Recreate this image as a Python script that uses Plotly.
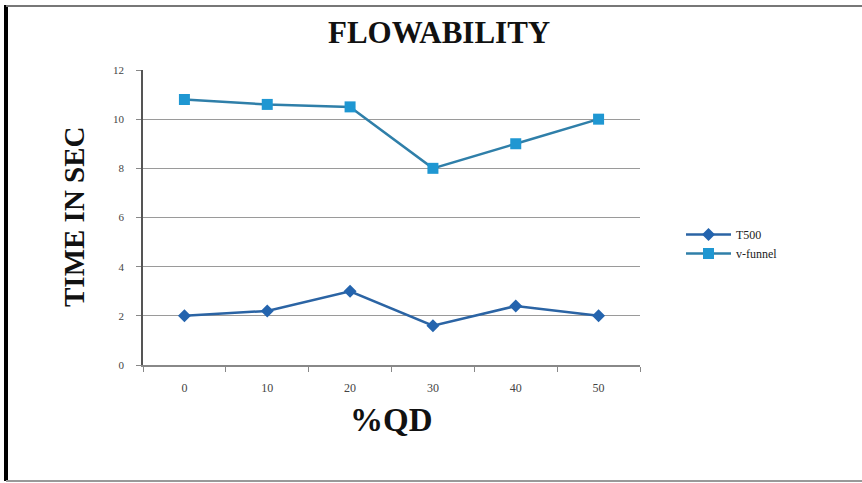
import plotly.graph_objects as go

categories = ["0", "10", "20", "30", "40", "50"]
t500 = [2.0, 2.2, 3.0, 1.6, 2.4, 2.0]
v_funnel = [10.8, 10.6, 10.5, 8.0, 9.0, 10.0]
y_ticks = [0, 2, 4, 6, 8, 10, 12]

W, H = 862, 483
L, R, T, B = 143, 640, 70, 365


def px_x(x):
    return (x - L) / (R - L)


def px_y(y):
    return (B - y) / (B - T)


fig = go.Figure()
fig.add_trace(go.Scatter(
    x=categories, y=t500, name="T500", mode="lines+markers",
    line=dict(color="#2B64A4", width=2.5),
    marker=dict(symbol="diamond", size=10, color="#2464AE"),
))
fig.add_trace(go.Scatter(
    x=categories, y=v_funnel, name="v-funnel", mode="lines+markers",
    line=dict(color="#2F7FA9", width=2.5),
    marker=dict(symbol="square", size=11, color="#1F97D2"),
))

serif = "Liberation Serif, Times New Roman, serif"

fig.update_layout(
    width=W, height=H,
    margin=dict(l=L, r=W - R, t=T, b=H - B, pad=0),
    paper_bgcolor="white", plot_bgcolor="white",
    font=dict(family=serif, color="#222"),
    showlegend=True,
    legend=dict(
        x=px_x(681), y=px_y(220), xanchor="left", yanchor="top",
        font=dict(family=serif, size=12, color="#222"),
        bgcolor="rgba(0,0,0,0)", tracegroupgap=0, itemwidth=45,
    ),
    xaxis=dict(
        type="category", range=[-0.5, 5.5],
        showline=True, linecolor="#888", linewidth=1.5,
        ticks="outside", tickson="boundaries", ticklen=5, tickcolor="#888",
        showgrid=False, ticklabelstandoff=11,
        tickfont=dict(family=serif, size=12, color="#444"),
    ),
    yaxis=dict(
        range=[0, 12], tickvals=y_ticks,
        showline=True, linecolor="#555", linewidth=1.5,
        ticks="outside", ticklen=5, tickcolor="#888",
        showgrid=True, gridcolor="#9a9a9a", gridwidth=1.2,
        zeroline=False, ticklabelstandoff=10,
        tickfont=dict(family=serif, size=11, color="#444"),
    ),
    annotations=[
        dict(text="<b>FLOWABILITY</b>", xref="paper", yref="paper",
             x=px_x(439), y=px_y(32), xanchor="center", yanchor="middle",
             showarrow=False,
             font=dict(family=serif, size=31, color="#111")),
        dict(text="<b>TIME IN SEC</b>", xref="paper", yref="paper",
             x=px_x(74), y=px_y(217), xanchor="center", yanchor="middle",
             showarrow=False, textangle=-90,
             font=dict(family=serif, size=29, color="#111")),
        dict(text="<b>%QD</b>", xref="paper", yref="paper",
             x=px_x(391), y=px_y(420), xanchor="center", yanchor="middle",
             showarrow=False,
             font=dict(family=serif, size=33, color="#111")),
    ],
    shapes=[
        dict(type="line", xref="paper", yref="paper",
             x0=px_x(6), x1=px_x(6), y0=px_y(5), y1=px_y(481),
             line=dict(color="black", width=4)),
        dict(type="line", xref="paper", yref="paper",
             x0=px_x(6), x1=px_x(862), y0=px_y(6), y1=px_y(6),
             line=dict(color="#777", width=2)),
        dict(type="line", xref="paper", yref="paper",
             x0=px_x(6), x1=px_x(862), y0=px_y(481), y1=px_y(481),
             line=dict(color="#999", width=2)),
    ],
)

fig.write_html("out.html", config={"displayModeBar": False},
               post_script="document.body.style.margin='0px';")
